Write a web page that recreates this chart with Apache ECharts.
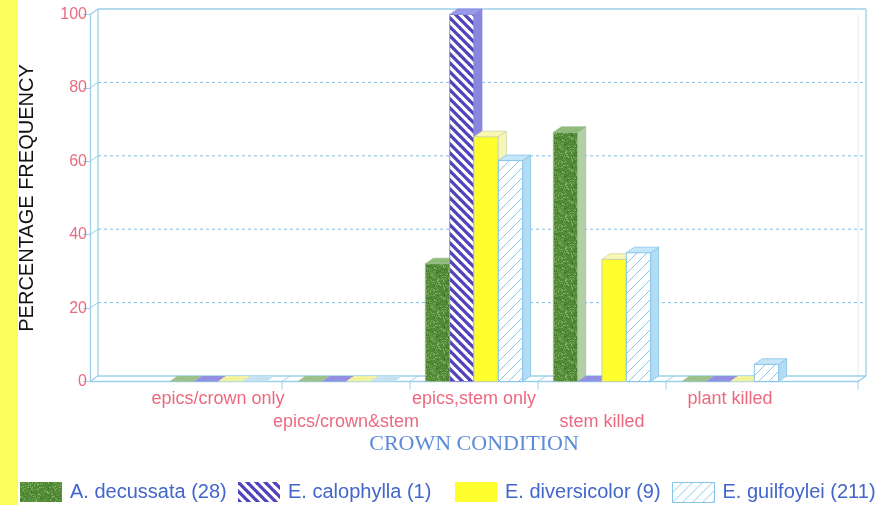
<!DOCTYPE html>
<html>
<head>
<meta charset="utf-8">
<script src="https://cdn.jsdelivr.net/npm/echarts@6.0.0/dist/echarts.min.js"></script>
<style>
  html, body { margin: 0; padding: 0; background: #ffffff; }
  #chart { width: 888px; height: 505px; }
</style>
</head>
<body>
<div id="chart"></div>
<script>
// ---- data ----
const categories = ['epics/crown only', 'epics/crown&stem', 'epics,stem only', 'stem killed', 'plant killed'];
const seriesNames = ['A. decussata (28)', 'E. calophylla (1)', 'E. diversicolor (9)', 'E. guilfoylei (211)'];
const decussata    = [0, 0, 32.1, 67.9, 0];
const calophylla   = [0, 0, 100, 0, 0];
const diversicolor = [0, 0, 66.7, 33.3, 0];
const guilfoylei   = [0, 0, 60.2, 35.1, 4.7];
const yTicks = [0, 20, 40, 60, 80, 100];
const floorTicks = [0.5, 1.5, 2.5, 3.5, 5];

// ---- fills ----
function makeCanvas(w, h, draw) {
  const c = document.createElement('canvas');
  c.width = w; c.height = h;
  draw(c.getContext('2d'), w, h);
  return c;
}
// speckled dark green (deterministic noise)
const speckle = makeCanvas(32, 32, (g, w, h) => {
  g.fillStyle = '#528a36';
  g.fillRect(0, 0, w, h);
  let s = 12345;
  const next = () => { s = (s * 16807) % 2147483647; return s / 2147483647; };
  for (let i = 0; i < 360; i++) {
    const x = Math.floor(next() * w), y = Math.floor(next() * h);
    const r = next();
    g.fillStyle = r < 0.45 ? '#73a656' : (r < 0.8 ? '#417230' : '#86b866');
    g.fillRect(x, y, 1, 1);
  }
});
// purple / white diagonal stripes running top-left to bottom-right
const stripes = makeCanvas(9, 9, (g, w, h) => {
  g.fillStyle = '#ffffff';
  g.fillRect(0, 0, w, h);
  g.strokeStyle = '#5043bb';
  g.lineWidth = 3.3;
  for (let k = -w; k <= w; k += w) {
    g.beginPath(); g.moveTo(k - 2, -2); g.lineTo(k + w + 2, h + 2); g.stroke();
  }
});
// white with thin light-blue hatching running bottom-left to top-right
const hatch = makeCanvas(10, 10, (g, w, h) => {
  g.fillStyle = '#ffffff';
  g.fillRect(0, 0, w, h);
  g.strokeStyle = '#8cc6e6';
  g.lineWidth = 1;
  for (let k = -w; k <= w; k += w) {
    g.beginPath(); g.moveTo(k - 2, h + 2); g.lineTo(k + w + 2, -2); g.stroke();
  }
});
const pat = c => ({ image: c, repeat: 'repeat' });

const faces = [
  { front: pat(speckle), top: '#8fbc78', side: '#b3cfa8', flat: '#9cc28a', edge: 'rgba(150,190,140,0.9)' },
  { front: pat(stripes), top: '#9a98e8', side: '#8986e0', flat: '#9290e2', edge: 'rgba(140,138,220,0.9)' },
  { front: '#ffff2e',     top: '#f8f8b4', side: '#f6f6b8', flat: '#f1f1a2', edge: 'rgba(200,210,160,0.9)' },
  { front: pat(hatch),   top: '#c4e6f8', side: '#b2dcf4', flat: '#c4e2f2', edge: '#86c4e8' }
];
const legendFills = [pat(speckle), pat(stripes), '#ffff2e', pat(hatch)];

// ---- drawing helpers ----
const AX = '#9ccfea';
const DX = 8, DY = -5.5;
const FONT = '"Liberation Sans", Arial, sans-serif';

function barRender(si) {
  const f = faces[si];
  return function (params, api) {
    const cat = api.value(0), v = api.value(1);
    const base = api.coord([cat, 0]);
    const top = api.coord([cat, v]);
    const band = api.size([1, 0])[0];
    const w = band * 0.19;
    const x = base[0] - 2 * w + si * w;
    const y0 = base[1], y1 = top[1];
    const children = [];
    if (y0 - y1 > 0.5) {
      children.push({ type: 'rect', shape: { x: x, y: y1, width: w, height: y0 - y1 },
        style: { fill: f.front, stroke: f.edge, lineWidth: 1 } });
      children.push({ type: 'polygon', shape: { points: [[x + w, y1], [x + w + DX, y1 + DY], [x + w + DX, y0 + DY], [x + w, y0]] },
        style: { fill: f.side, stroke: f.edge, lineWidth: 0.8 } });
      children.push({ type: 'polygon', shape: { points: [[x, y1], [x + DX, y1 + DY], [x + w + DX, y1 + DY], [x + w, y1]] },
        style: { fill: f.top, stroke: f.edge, lineWidth: 0.8 } });
    } else {
      children.push({ type: 'polygon', shape: { points: [[x, y0], [x + DX, y0 + DY], [x + w + DX, y0 + DY], [x + w, y0]] },
        style: { fill: f.flat } });
    }
    return { type: 'group', children: children };
  };
}

function frameRender(params, api) {
  const lb = api.coord([-1, 0]), rt = api.coord([5, 100]);
  const L = lb[0], B = lb[1], R = rt[0], T = rt[1];
  const line = (x1, y1, x2, y2, st) => ({ type: 'line', shape: { x1, y1, x2, y2 },
    style: Object.assign({ stroke: AX, lineWidth: 1.3 }, st || {}) });
  const ch = [];
  // back wall
  ch.push(line(L + DX, B + DY, L + DX, T + DY));
  ch.push(line(L + DX, T + DY, R + DX, T + DY));
  ch.push(line(R + DX, T + DY, R + DX, B + DY));
  ch.push(line(R, T, R, B, { stroke: '#d8ecf6', lineWidth: 1 }));
  ch.push(line(L, T, L + DX, T + DY));
  // floor
  ch.push(line(L + DX, B + DY, R + DX, B + DY));
  ch.push(line(L, B, R, B));
  ch.push(line(R, B, R + DX, B + DY));
  ch.push(line(L, B, L + DX, B + DY));
  // dashed value lines on the back wall
  yTicks.forEach(v => {
    if (v === 0 || v === 100) return;
    const y = api.coord([0, v])[1];
    ch.push(line(L, y, L + DX, y + DY, { lineWidth: 1 }));
    ch.push(line(L + DX, y + DY, R + DX, y + DY, { stroke: '#86bde0', lineWidth: 1, lineDash: [3, 3] }));
  });
  // category ticks across the floor
  floorTicks.forEach(t => {
    const x = api.coord([t, 0])[0];
    ch.push(line(x + DX, B + DY, x, B, { lineWidth: 1 }));
    ch.push(line(x, B, x, B + 8, { lineWidth: 1 }));
  });
  return { type: 'group', children: ch };
}

function labelRender(params, api) {
  const i = api.value(0);
  const p = api.coord([i, 0]);
  return {
    type: 'text',
    style: {
      text: categories[i], x: p[0], y: p[1] + (i % 2 === 0 ? 18 : 41),
      align: 'center', verticalAlign: 'middle',
      fill: '#ec6a7f', font: '18px ' + FONT
    }
  };
}

const seriesData = [decussata, calophylla, diversicolor, guilfoylei];
const legendLeft = [20, 238, 455, 672];

const chart = echarts.init(document.getElementById('chart'), null, { renderer: 'canvas' });
chart.setOption({
  animation: false,
  backgroundColor: '#ffffff',
  grid: { left: 90, right: 30, top: 14.5, bottom: 123.5 },
  graphic: [{ type: 'rect', left: 0, top: 0, shape: { width: 18, height: 505 }, style: { fill: '#fdfd5c' }, z: 0 }],
  xAxis: {
    type: 'value', min: -1, max: 5,
    axisLine: { show: false }, axisTick: { show: false }, axisLabel: { show: false }, splitLine: { show: false },
    name: 'CROWN CONDITION', nameLocation: 'middle', nameGap: 52,
    nameTextStyle: { color: '#5b8bd6', fontSize: 22, fontFamily: '"Liberation Serif", "Times New Roman", serif' }
  },
  yAxis: {
    type: 'value', min: 0, max: 100, interval: 20,
    axisLine: { show: true, onZero: false, lineStyle: { color: AX, width: 1.3 } },
    axisTick: { show: true, length: 7, lineStyle: { color: AX } },
    axisLabel: { color: '#e86b80', fontSize: 16, margin: 3, fontFamily: FONT },
    splitLine: { show: false },
    name: 'PERCENTAGE FREQUENCY', nameLocation: 'middle', nameGap: 53, nameRotate: 90,
    nameTextStyle: { color: '#111111', fontSize: 20, fontFamily: FONT }
  },
  legend: seriesNames.map((n, i) => ({
    data: [{ name: n, icon: 'rect', itemStyle: { color: legendFills[i], borderColor: i === 3 ? '#86c4e8' : 'transparent', borderWidth: i === 3 ? 1 : 0 } }],
    left: legendLeft[i], top: 482, padding: 0, itemWidth: 42, itemHeight: 20, selectedMode: false,
    textStyle: { color: '#4266cb', fontSize: 20, fontFamily: FONT, padding: [0, 0, 0, 3] }
  })),
  series: [
    { type: 'custom', name: 'frame', silent: true, clip: false, z: 1, renderItem: frameRender, data: [[0]] },
    { type: 'custom', name: 'labels', silent: true, clip: false, z: 1, renderItem: labelRender,
      data: categories.map((c, i) => [i]) }
  ].concat(seriesData.map((arr, si) => ({
    type: 'custom', name: seriesNames[si], clip: false, z: 2 + si,
    itemStyle: { color: legendFills[si] },
    renderItem: barRender(si),
    encode: { x: 0, y: 1 },
    data: arr.map((v, i) => [i, v])
  })))
});
</script>
</body>
</html>
